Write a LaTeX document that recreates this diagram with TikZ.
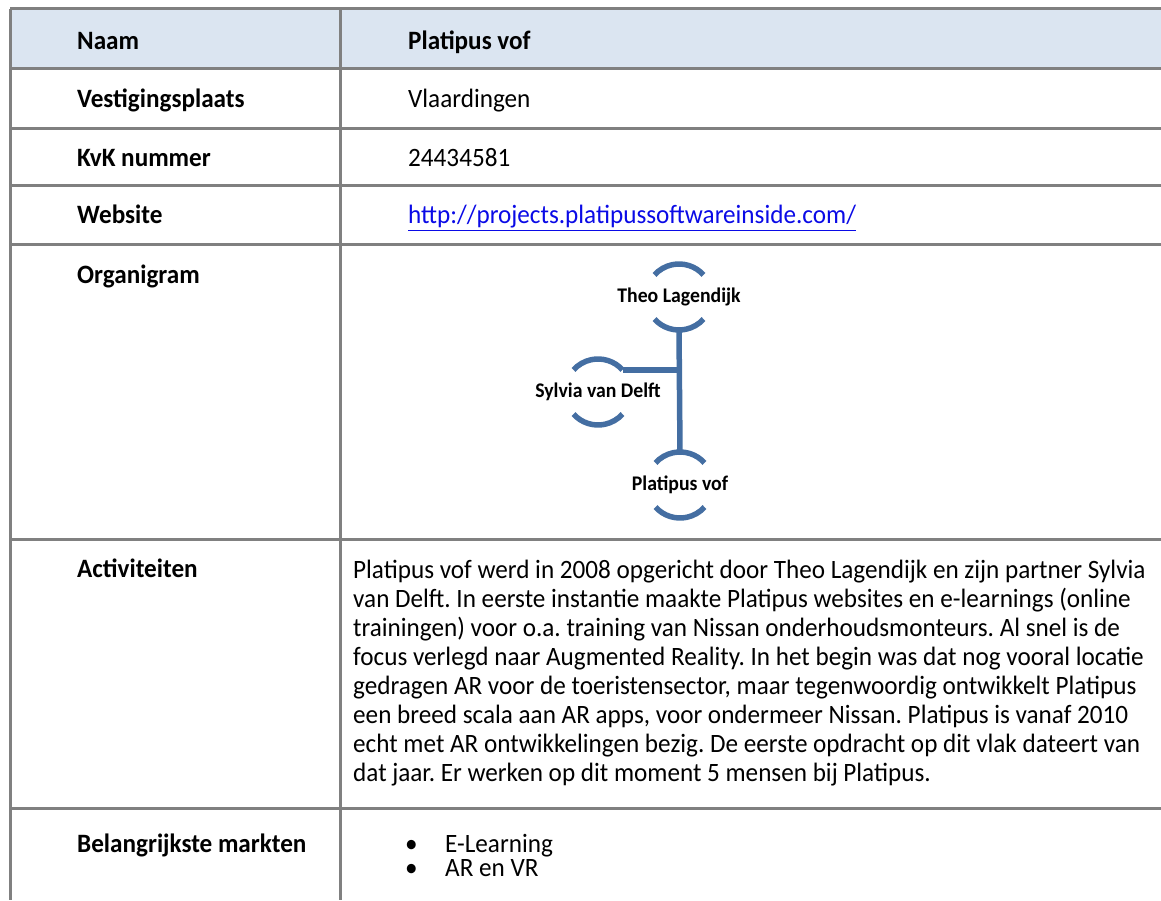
\documentclass[tikz,border=0pt]{standalone}
\usepackage{fontspec}
\setmainfont{Carlito}[FakeStretch=0.95]
\usetikzlibrary{calc}
\frenchspacing
\definecolor{gridgray}{RGB}{128,128,128}
\definecolor{headblue}{RGB}{219,229,241}
\definecolor{orgblue}{RGB}{68,110,162}
\definecolor{linkblue}{RGB}{10,10,230}
\tikzstyle{gridline}=[draw=gridgray,line width=3pt]
\tikzstyle{celltext}=[anchor=base west,inner sep=0pt,font=\fontsize{26.5}{29}\selectfont]
\tikzstyle{cellbold}=[celltext,font=\fontsize{26.5}{29}\selectfont\bfseries]
\tikzstyle{orgline}=[draw=orgblue,line width=5.5pt]
\tikzstyle{orgname}=[inner sep=0pt,font=\fontsize{20.8}{22}\selectfont\bfseries]
\newcommand{\orgarcs}[2][33pt]{ % upper and lower arc round node #2
\coordinate (#2-top) at ($(#2.center)+(90:#1)$);
\coordinate (#2-bot) at ($(#2.center)+(270:#1)$);
\coordinate (#2-tr) at ($(#2.center)+(42:#1)$);
\draw[orgline] ($(#2.center)+(42:#1)$) arc (42:138:#1);
\draw[orgline] ($(#2.center)+(222:#1)$) arc (222:318:#1);
}

\begin{document}
\begin{tikzpicture}[x=1pt,y=1pt]
\useasboundingbox (0,0) rectangle (1161,900);
\fill[headblue] (10,831) rectangle (1161,891);
\foreach \y in {891,831,771,714,655,360,92} {
  \draw[gridline] (10,\y) -- (1161,\y);
}
\draw[gridline] (10,891) -- (10,0);
\draw[gridline] (340,891) -- (340,0);

% left column
\node[cellbold] (naam) at (77,850) {Naam};
\node[cellbold] (vestiging) at (77,792) {Vestigingsplaats};
\node[cellbold] (kvk) at (77,733) {KvK nummer};
\node[cellbold] (website) at (77,676) {Website};
\node[cellbold] (organigram) at (77,616) {Organigram};
\node[cellbold] (activiteiten) at (77,322) {Activiteiten};
\node[cellbold] (markten) at (77,48) {Belangrijkste markten};

% right column
\node[cellbold] (naamval) at (408,850) {Platipus vof};
\node[celltext] (vestigingval) at (408,792) {Vlaardingen};
\node[celltext] (kvkval) at (408,733) {24434581};
\node[celltext] (websiteval) at (408,676) {\color{linkblue}\underline{http://projects.platipussoftwareinside.com/}};
% base of a multi-line node is its last line
\node[celltext,align=left] (activval) at (353,119) {Platipus vof werd in 2008 opgericht door Theo Lagendijk en zijn partner Sylvia\\
van Delft. In eerste instantie maakte Platipus websites en e-learnings (online\\
trainingen) voor o.a. training van Nissan onderhoudsmonteurs. Al snel is de\\
focus verlegd naar Augmented Reality. In het begin was dat nog vooral locatie\\
gedragen AR voor de toeristensector, maar tegenwoordig ontwikkelt Platipus\\
een breed scala aan AR apps, voor ondermeer Nissan. Platipus is vanaf 2010\\
echt met AR ontwikkelingen bezig. De eerste opdracht op dit vlak dateert van\\
dat jaar. Er werken op dit moment 5 mensen bij Platipus.};
\node[celltext] (bul1) at (405,48) {\textbullet};
\node[celltext] (markt1) at (445,48) {E-Learning};
\node[celltext] (bul2) at (405,24) {\textbullet};
\node[celltext] (markt2) at (445,24) {AR en VR};

% organigram
\node[orgname] (theo) at (679,603) {Theo Lagendijk};
\node[orgname] (sylvia) at (598,508) {Sylvia van Delft};
\node[orgname] (platipus) at (680,415) {Platipus vof};
\orgarcs{theo}
\orgarcs{sylvia}
\orgarcs{platipus}
\draw[orgline] (theo-bot) -- (platipus-top);
\draw[orgline] (sylvia-tr) -- (sylvia-tr -| theo-bot);
\end{tikzpicture}
\end{document}
